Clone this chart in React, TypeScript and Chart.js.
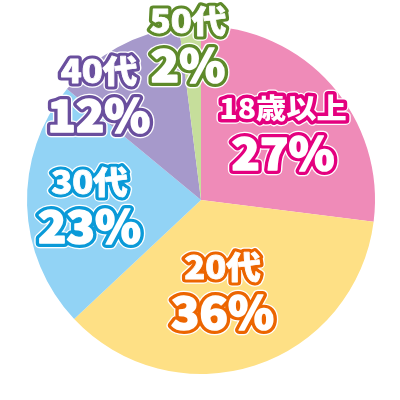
import React, { useEffect, useRef } from "react";
import { Chart, registerables } from "chart.js";

Chart.register(...registerables);

const categories = ["18歳以上", "20代", "30代", "40代", "50代"];
const shares = [27, 36, 23, 12, 2];
const sliceColors = ["#ef8bb8", "#fee085", "#92d3f5", "#a699cb", "#c6de9b"];
const outlineColors = ["#e4007f", "#ec6500", "#0a9ad8", "#6a4f9e", "#5e8a2a"];
// label placement: [angle offset (deg), radius fraction]
const labelPlacement: [number, number][] = [
  [1.1, 0.618],
  [4.4, 0.526],
  [0, 0.641],
  [-14.7, 0.852],
  [-1.1, 0.908],
];

const FONT = '"Noto Sans CJK JP", "Noto Sans", sans-serif';

function drawOutlined(
  ctx: CanvasRenderingContext2D,
  text: string,
  x: number,
  y: number,
  size: number,
  color: string,
  sx: number,
  inner: number,
  band: number
) {
  ctx.save();
  ctx.font = `900 ${size}px ${FONT}`;
  ctx.textAlign = "center";
  ctx.textBaseline = "middle";
  ctx.lineJoin = "round";
  ctx.translate(x, y);
  ctx.scale(sx, 1);
  ctx.strokeStyle = "#ffffff";
  ctx.lineWidth = band + 2.5;
  ctx.strokeText(text, 0, 0);
  ctx.strokeStyle = color;
  ctx.lineWidth = band;
  ctx.strokeText(text, 0, 0);
  ctx.fillStyle = "#ffffff";
  ctx.fillText(text, 0, 0);
  if (inner > 0) {
    ctx.strokeStyle = "#ffffff";
    ctx.lineWidth = inner;
    ctx.strokeText(text, 0, 0);
  }
  ctx.restore();
}

const labelPlugin = {
  id: "outlinedLabels",
  afterDatasetsDraw(chart: any) {
    const ctx = chart.ctx as CanvasRenderingContext2D;
    const meta = chart.getDatasetMeta(0);
    meta.data.forEach((arc: any, i: number) => {
      const p = arc.getProps(["x", "y", "startAngle", "endAngle", "outerRadius"], true);
      const [off, frac] = labelPlacement[i];
      const a = (p.startAngle + p.endAngle) / 2 + (off * Math.PI) / 180;
      const cx = p.x + Math.cos(a) * p.outerRadius * frac;
      const cy = p.y + Math.sin(a) * p.outerRadius * frac;
      const nameSize = i === 0 ? 28 : 32;
      drawOutlined(ctx, categories[i], cx, cy - 22, nameSize, outlineColors[i], 1.08, i === 0 ? 0 : 0.8, 7);
      drawOutlined(ctx, shares[i] + "%", cx, cy + 23, 44, outlineColors[i], 1.06, 1.6, 8);
    });
  },
};

export default function App() {
  const ref = useRef<HTMLCanvasElement | null>(null);
  useEffect(() => {
    if (!ref.current) return;
    const chart = new Chart(ref.current, {
      type: "pie",
      data: {
        labels: categories,
        datasets: [
          {
            data: shares,
            backgroundColor: sliceColors,
            borderWidth: 0,
          },
        ],
      },
      options: {
        animation: false,
        responsive: false,
        devicePixelRatio: 1,
        layout: { padding: { left: 27, right: 25, top: 26, bottom: 26 } },
        plugins: {
          legend: { display: false },
          tooltip: { enabled: false },
        },
      },
      plugins: [labelPlugin],
    });
    return () => chart.destroy();
  }, []);
  return (
    <div style={{ position: "absolute", left: 0, top: 0, width: 400, height: 400, background: "#fff" }}>
      <canvas ref={ref} width={400} height={400} style={{ width: 400, height: 400 }} />
    </div>
  );
}
